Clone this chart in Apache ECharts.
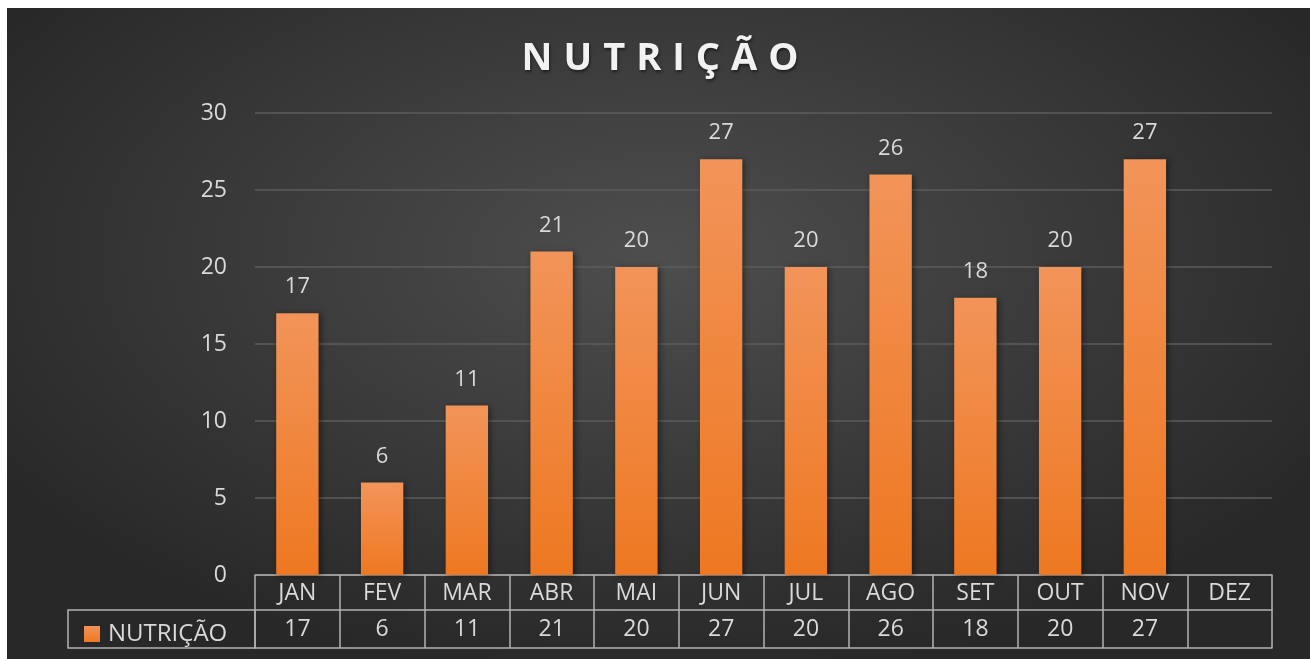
<!DOCTYPE html>
<html>
<head>
<meta charset="utf-8">
<script src="https://cdn.jsdelivr.net/npm/echarts@6/dist/echarts.min.js"></script>
<style>
  html, body { margin: 0; padding: 0; background: #fff; width: 1310px; height: 659px; overflow: hidden; }
  #wrap {
    position: absolute; left: 7px; top: 8px; width: 1303px; height: 651px;
    background: radial-gradient(ellipse 60% 65% at 50% 38%, #4e4e4e 0%, #3d3d3d 45%, #282828 100%);
  }
  #chart { position: absolute; left: 0; top: 0; width: 1303px; height: 651px; }
  #title {
    position: absolute; left: 0; width: 1303px; top: 21px; text-align: center;
    font-family: "Open Sans", sans-serif; font-weight: bold; font-size: 38px;
    letter-spacing: 11px; padding-left: 14px; box-sizing: border-box;
    color: #f2f2f2; text-shadow: 1px 2px 3px rgba(0,0,0,0.5);
  }
</style>
</head>
<body>
<div id="wrap">
  <div id="chart"></div>
  <div id="title">NUTRIÇÃO</div>
</div>
<script>
// dados
const meses = ['JAN', 'FEV', 'MAR', 'ABR', 'MAI', 'JUN', 'JUL', 'AGO', 'SET', 'OUT', 'NOV', 'DEZ'];
const nutricao = [17, 6, 11, 21, 20, 27, 20, 26, 18, 20, 27, null];
const serieNome = 'NUTRIÇÃO';

const txt = '#d9d9d9';
const linha = '#b3b3b3';
const fonte = '"Open Sans", sans-serif';

const chart = echarts.init(document.getElementById('chart'));

chart.setOption({
  animation: false,
  textStyle: { fontFamily: fonte },
  grid: { left: 248, right: 38, top: 105, bottom: 84 },
  legend: {
    data: [serieNome],
    left: 72, top: 609,
    icon: 'rect', itemWidth: 16, itemHeight: 16, itemGap: 0,
    textStyle: { color: txt, fontSize: 24, lineHeight: 24, fontFamily: fonte, padding: [0, 0, 0, 3] }
  },
  // borda da célula da legenda na tabela
  graphic: [{
    type: 'rect',
    shape: { x: 61, y: 602, width: 187, height: 38 },
    style: { fill: 'none', stroke: linha, lineWidth: 1.5 },
    silent: true
  }],
  xAxis: [{
    type: 'category',
    data: meses,
    position: 'bottom',
    axisLine: { show: true, lineStyle: { color: linha, width: 1.5 } },
    axisTick: { show: true, interval: 0, length: 73, lineStyle: { color: linha, width: 1.5 } },
    axisLabel: { color: txt, fontSize: 23, lineHeight: 23, margin: 7, interval: 0, fontFamily: fonte }
  }, {
    type: 'category',
    data: nutricao.map(v => v == null ? '' : String(v)),
    position: 'bottom',
    offset: 35,
    axisLine: { show: true, lineStyle: { color: linha, width: 1.5 } },
    axisTick: { show: false },
    axisLabel: { color: txt, fontSize: 23, lineHeight: 23, margin: 8, interval: 0, fontFamily: fonte }
  }, {
    type: 'category',
    data: meses,
    position: 'bottom',
    offset: 73,
    axisLine: { show: true, lineStyle: { color: linha, width: 1.5 } },
    axisTick: { show: false },
    axisLabel: { show: false }
  }],
  yAxis: {
    type: 'value',
    min: 0, max: 30, interval: 5,
    axisLine: { show: false },
    axisTick: { show: false },
    axisLabel: { color: txt, fontSize: 23, margin: 28, fontFamily: fonte },
    splitLine: { lineStyle: { color: '#5c5c5c', width: 1.5 } }
  },
  series: [{
    name: serieNome,
    type: 'bar',
    data: nutricao,
    barWidth: '50%',
    itemStyle: {
      color: new echarts.graphic.LinearGradient(0, 0, 0, 1, [
        { offset: 0, color: '#f29459' },
        { offset: 1, color: '#ee7821' }
      ]),
      shadowBlur: 6,
      shadowColor: 'rgba(0,0,0,0.45)',
      shadowOffsetX: 2,
      shadowOffsetY: 1
    },
    label: {
      show: true, position: 'top', distance: 15,
      color: txt, fontSize: 22, fontFamily: fonte
    }
  }]
});
</script>
</body>
</html>
